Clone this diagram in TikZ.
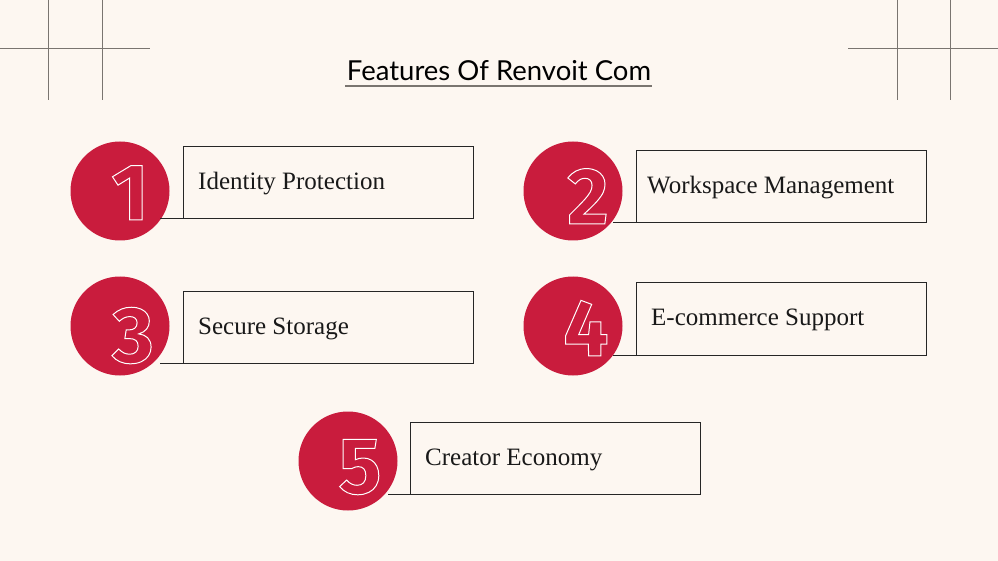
\documentclass[tikz,border=0pt]{standalone}
\usepackage{fontspec}
\setmainfont{Liberation Serif}
\newfontfamily\titlefont{Lato}
\newfontfamily\digitfont{Fira Sans}
\definecolor{bg}{HTML}{FDF7F1}
\definecolor{rd}{HTML}{C91C3D}
\definecolor{ln}{HTML}{7A7570}
\newcommand{\outl}[1]{\special{pdf:literal direct 1 Tr 1 w 1 1 1 RG}#1\special{pdf:literal direct 0 Tr}}
\begin{document}
\begin{tikzpicture}[x=1pt,y=-1pt,
  featbox/.style={draw=black!85,line width=1pt,fill=bg},
  disc/.style={circle,fill=rd,minimum size=99pt,inner sep=0pt},
  digit/.style={anchor=south,inner sep=0pt,font=\digitfont\bfseries\fontsize{80}{80}\selectfont,text=white},
  label/.style={anchor=base west,inner sep=0pt,font=\fontsize{25}{25}\selectfont,text=black!90},
  grid/.style={draw=ln,line width=0.6pt}]
\fill[bg] (0,0) rectangle (998,561);
\useasboundingbox (0,0) rectangle (998,561);
% corner grids
\draw[grid] (0,48) -- (150,48) (48,0) -- (48,100) (102,0) -- (102,100);
\draw[grid] (848,48) -- (998,48) (897,0) -- (897,100) (950,0) -- (950,100);
% title
\node[inner sep=0pt,anchor=base,font=\titlefont\fontsize{27.5}{27.5}\selectfont] (title) at (499,81) {Features Of Renvoit Com};
\draw[draw=ln,line width=1.5pt] (345,86) -- (652,86);
% boxes
\draw[featbox] (183,147) rectangle (473,219);
\draw[featbox] (636,151) rectangle (926,223);
\draw[featbox] (183,291) rectangle (473,363);
\draw[featbox] (636,282) rectangle (926,355);
\draw[featbox] (410,422) rectangle (700,494);
% discs
\node[disc] (c1) at (120,191) {};
\node[disc] (c2) at (573,191) {};
\node[disc] (c3) at (120,326) {};
\node[disc] (c4) at (573,326) {};
\node[disc] (c5) at (348,461) {};
\draw[featbox,fill=none] (160,219) -- (183,219);
\draw[featbox,fill=none] (613,223) -- (636,223);
\draw[featbox,fill=none] (160,363) -- (183,363);
\draw[featbox,fill=none] (613,355) -- (636,355);
\draw[featbox,fill=none] (388,494) -- (410,494);
% digits
\node[digit] (d1) at (130,220) {\outl{1}};
\node[digit] (d2) at (588,224) {\outl{2}};
\node[digit] (d3) at (133,364) {\outl{3}};
\node[digit] (d4) at (586,356) {\outl{4}};
\node[digit] (d5) at (360,495) {\outl{5}};
% labels
\node[label] (t1) at (198,190) {Identity Protection};
\node[label] (t2) at (647,194) {Workspace Management};
\node[label] (t3) at (198,334) {Secure Storage};
\node[label] (t4) at (651,325) {E-commerce Support};
\node[label] (t5) at (425,465) {Creator Economy};
\end{tikzpicture}
\end{document}
